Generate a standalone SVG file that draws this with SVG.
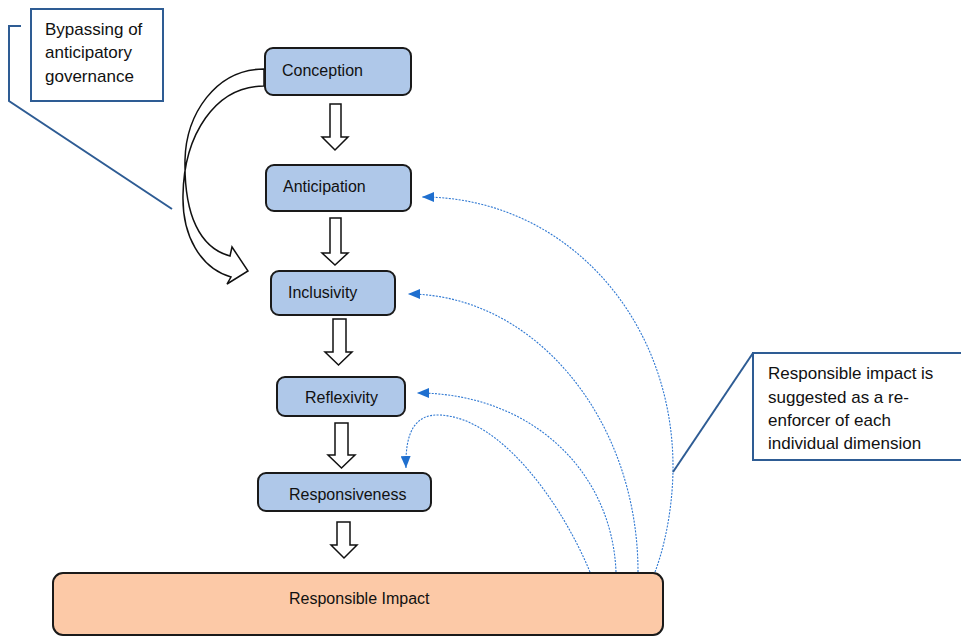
<svg xmlns="http://www.w3.org/2000/svg" width="961" height="637" viewBox="0 0 961 637">
<style>
  .box { fill: #AFC8E9; stroke: #1a1a1a; stroke-width: 2; }
  .impact { fill: #FCC9A7; stroke: #1a1a1a; stroke-width: 2; }
  .lbl { font-family: "Liberation Sans", Arial, sans-serif; font-size: 16px; fill: #111; }
  .call { font-family: "Liberation Sans", Arial, sans-serif; font-size: 17px; fill: #111; }
  .callbox { fill: #fff; stroke: #2E5C94; stroke-width: 2; }
  .callline { fill: none; stroke: #2E5C94; stroke-width: 2; }
  .block { fill: #fff; stroke: #111; stroke-width: 1.5; stroke-linejoin: miter; }
  .dot { fill: none; stroke: #2F78D2; stroke-width: 1.1; stroke-dasharray: 2 1.3; }
</style>
<defs>
  <marker id="ah" markerUnits="userSpaceOnUse" markerWidth="12" markerHeight="10" viewBox="0 0 12 10" refX="12" refY="5" orient="auto">
    <path d="M0,0 L12,5 L0,10 z" fill="#1F6FCF"/>
  </marker>
</defs>
<rect width="961" height="637" fill="#fff"/>

<g id="connectors">
  <!-- curved bypass block arrow -->
  <path class="block" d="M264,69 C215,69 186,115 185,160 C184,215 200,248 230,256 L232,247 L248,271 L227,284 L231,277 C200,268 182,235 183,195 C184,135 215,86 264,86 Z"/>
  <!-- vertical block arrows -->
  <path class="block" d="M330,104 L341,104 L341,137 L348,137 L335,150 L322,137 L330,137 Z"/>
  <path class="block" d="M330,218 L341,218 L341,253 L348,253 L335,265 L322,253 L330,253 Z"/>
  <path class="block" d="M333,319 L346,319 L346,352 L352,352 L338.5,365 L325,352 L333,352 Z"/>
  <path class="block" d="M335,423 L348,423 L348,455 L355,455 L341.5,468 L328,455 L335,455 Z"/>
  <path class="block" d="M337,522 L350,522 L350,545 L357,545 L344,558 L331,545 L337,545 Z"/>
  <!-- dotted reinforcement curves -->
  <path class="dot" marker-end="url(#ah)" d="M655,572 C667,540 673,500 673,467 C673,318 565,197 422,197"/>
  <path class="dot" marker-end="url(#ah)" d="M638,572 C638,420 535,294 408,294"/>
  <path class="dot" marker-end="url(#ah)" d="M616,572 C612,470 530,393 417,393"/>
  <path class="dot" marker-end="url(#ah)" d="M590,572 C560,500 500,418 440,415 C415,414 405,432 406,468"/>
  <!-- callout leader lines -->
  <path class="callline" d="M21,26 L9,26 L9,101 L172,209"/>
  <path class="callline" d="M753,353 L673,472"/>
</g>

<g id="bypass-callout">
  <rect class="callbox" x="31" y="9" width="132" height="92"/>
  <text class="call" x="45" y="35">Bypassing of</text>
  <text class="call" x="45" y="58">anticipatory</text>
  <text class="call" x="45" y="82">governance</text>
</g>

<g id="impact-callout">
  <rect class="callbox" x="753" y="353" width="220" height="107"/>
  <text class="call" x="768" y="379">Responsible impact is</text>
  <text class="call" x="768" y="403">suggested as a re-</text>
  <text class="call" x="768" y="426">enforcer of each</text>
  <text class="call" x="768" y="449">individual dimension</text>
</g>

<g id="conception">
  <rect class="box" x="265" y="48" width="146" height="47" rx="8"/>
  <text class="lbl" x="282" y="76">Conception</text>
</g>
<g id="anticipation">
  <rect class="box" x="266" y="165" width="145" height="46" rx="8"/>
  <text class="lbl" x="283" y="192">Anticipation</text>
</g>
<g id="inclusivity">
  <rect class="box" x="271" y="271" width="124" height="44" rx="8"/>
  <text class="lbl" x="288" y="298">Inclusivity</text>
</g>
<g id="reflexivity">
  <rect class="box" x="277" y="377" width="128" height="39" rx="8"/>
  <text class="lbl" x="305" y="403">Reflexivity</text>
</g>
<g id="responsiveness">
  <rect class="box" x="258" y="473" width="173" height="38" rx="8"/>
  <text class="lbl" x="289" y="500">Responsiveness</text>
</g>
<g id="responsible-impact">
  <rect class="impact" x="53" y="573" width="610" height="62" rx="10"/>
  <text class="lbl" x="289" y="604">Responsible Impact</text>
</g>
</svg>
